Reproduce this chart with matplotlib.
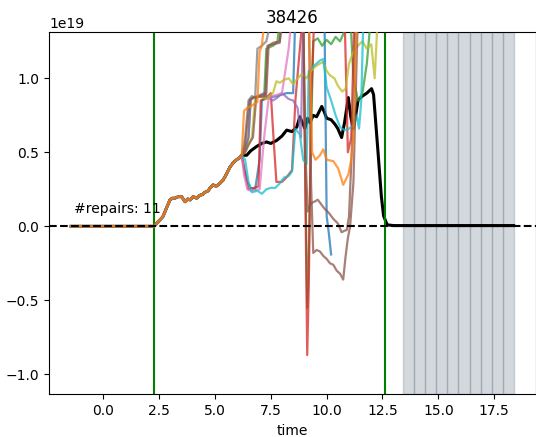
import matplotlib
matplotlib.use("Agg")
import matplotlib.pyplot as plt
import numpy as np

# shared part of every run (before the repairs split off), units of 1e19
t_shared = [-1.44, 2.27, 2.45, 2.67, 2.82, 2.99, 3.1, 3.21, 3.35, 3.51, 3.66, 3.78, 3.88,
            4.03, 4.18, 4.33, 4.45, 4.55, 4.7, 4.78, 4.92, 5.05, 5.22, 5.35, 5.45, 5.57,
            5.67, 5.82, 5.97, 6.08, 6.2]
v_shared = [0.0, 0.0, 0.03, 0.065, 0.12, 0.18, 0.19, 0.19, 0.2, 0.2, 0.166, 0.185, 0.178,
            0.2, 0.19, 0.21, 0.215, 0.23, 0.24, 0.26, 0.28, 0.27, 0.29, 0.31, 0.335, 0.37,
            0.40, 0.43, 0.45, 0.46, 0.48]

# black reference run after the split
t_black = [6.42, 6.6, 6.87, 7.1, 7.31, 7.5, 7.76, 8.0, 8.21, 8.45, 8.66, 8.8, 9.03, 9.15,
           9.25, 9.4, 9.55, 9.78, 9.9, 10.0, 10.2, 10.37, 10.5, 10.67, 10.8, 10.97, 11.08,
           11.19, 11.3, 11.41, 11.6, 11.8, 12.01, 12.1, 12.3, 12.45, 12.55, 12.71, 13.0, 18.37]
v_black = [0.48, 0.51, 0.54, 0.56, 0.57, 0.56, 0.58, 0.61, 0.65, 0.64, 0.67, 0.74, 0.66, 0.73,
           0.70, 0.75, 0.74, 0.81, 0.77, 0.73, 0.72, 0.69, 0.66, 0.60, 0.70, 0.87, 0.74,
           0.66, 0.75, 0.855, 0.88, 0.90, 0.93, 0.89, 0.5, 0.2, 0.07, 0.01, 0.005, 0.005]

# repair runs after the split
t_blue = [6.3, 6.45, 6.6, 6.8, 7.0, 7.1, 7.4, 7.8, 8.2, 8.5, 8.6, 9.9, 10.0, 10.1, 10.2]
v_blue = [0.4, 0.3, 0.26, 0.25, 0.45, 0.85, 0.87, 0.88, 0.9, 0.9, 1.45, 1.45, 0.07, -0.05, -0.19]

t_green = [6.35, 6.5, 6.6, 7.0, 7.2, 7.3, 7.6, 7.8, 7.95, 8.95, 9.05, 9.13, 9.2, 9.3, 9.4,
           9.6, 9.8, 10.0, 10.2, 10.4, 10.6, 10.75, 10.9, 11.05, 11.2, 11.4, 11.6, 11.8, 12.0]
v_green = [0.52, 0.6, 0.86, 0.88, 0.87, 1.2, 1.22, 1.25, 1.45, 1.45, 0.3, -0.55, -0.2, 0.6,
           1.25, 1.27, 1.22, 1.26, 1.23, 1.28, 1.25, 1.3, 1.45, 1.45, 1.0, 0.85, 0.9, 1.1, 1.45]

t_red = [6.35, 6.5, 6.75, 6.95, 7.05, 7.3, 7.5, 7.62, 7.75, 8.0, 8.2, 8.45, 8.6, 8.8, 8.95,
         9.05, 9.13, 9.2, 9.3, 9.45, 10.8, 10.95, 11.1, 11.25]
v_red = [0.35, 0.25, 0.26, 0.27, 0.85, 0.87, 0.9, 0.6, 0.3, 0.3, 0.33, 0.38, 0.85, 1.2, 1.45,
         0.2, -0.87, -0.4, 0.8, 1.45, 1.45, 0.5, 0.6, 1.45]

t_purple = [6.35, 6.5, 6.6, 6.9, 7.2, 7.4, 7.6, 7.8, 8.0, 8.3, 8.5, 8.7, 8.85, 8.95]
v_purple = [0.52, 0.6, 0.86, 0.88, 0.9, 0.87, 0.85, 0.87, 0.9, 0.86, 0.85, 0.8, 0.6, 1.45]

t_brown_a = [6.35, 6.5, 6.7, 6.85, 7.3, 7.4, 7.6, 7.9, 8.05, 8.95, 9.05, 9.15, 9.25, 9.35,
             9.5, 9.6, 9.75, 9.9, 10.1, 10.3, 10.5, 10.67, 10.8, 10.9, 11.0, 11.15, 11.3]
v_brown_a = [0.5, 0.55, 0.6, 0.87, 0.9, 1.22, 1.24, 1.25, 1.45, 1.45, 0.5, 0.1, 0.14, 0.16,
             0.17, 0.18, 0.15, 0.12, 0.09, 0.05, 0.02, -0.04, -0.03, -0.025, 0.065, 0.6, 1.45]

t_brown_b = [6.35, 6.55, 6.7, 7.25, 7.35, 7.9, 8.0, 9.2, 9.3, 9.4, 9.55, 9.7, 9.85, 10.0,
             10.15, 10.3, 10.45, 10.6, 10.74, 10.85, 10.95, 11.05, 11.2, 11.4]
v_brown_b = [0.55, 0.85, 0.87, 0.88, 1.22, 1.24, 1.45, 1.45, 0.3, -0.18, -0.16, -0.17, -0.2,
             -0.22, -0.25, -0.26, -0.3, -0.32, -0.36, -0.2, -0.08, 0.0, 0.3, 1.45]

t_pink = [6.3, 6.45, 6.6, 7.0, 7.2, 7.4, 7.6, 8.0, 8.3, 8.45]
v_pink = [0.35, 0.25, 0.24, 0.25, 0.6, 0.86, 0.88, 0.9, 1.2, 1.45]

t_gray = [6.35, 6.5, 6.65, 6.8, 6.9, 7.1, 7.3, 7.45, 7.6]
v_gray = [0.6, 0.85, 0.88, 0.87, 1.2, 1.22, 1.25, 1.35, 1.45]

t_olive = [6.35, 6.5, 6.65, 6.8, 7.0, 7.3, 7.6, 7.75, 7.9, 8.1, 8.3, 8.5, 8.7, 8.9, 9.1,
           9.3, 9.5, 9.7, 9.85, 10.0, 10.15, 10.35, 10.5, 10.7, 10.85, 11.0, 11.2, 11.4,
           11.6, 11.8, 12.0, 12.15, 12.3]
v_olive = [0.5, 0.55, 0.6, 0.87, 0.88, 0.86, 0.9, 0.98, 0.97, 0.99, 1.0, 0.96, 1.0, 1.03,
           1.0, 1.05, 1.08, 1.1, 1.11, 1.05, 1.02, 1.0, 0.95, 0.91, 0.93, 1.1, 1.18, 1.22,
           1.25, 1.2, 1.23, 1.0, 1.45]

t_cyan = [6.35, 6.5, 6.65, 6.9, 7.1, 7.3, 7.5, 7.7, 7.9, 8.1, 8.3, 8.45, 8.6, 8.8, 8.95,
          9.1, 9.2, 9.4, 9.55, 9.7, 9.85, 10.0, 10.2, 10.4, 10.6, 10.8, 11.0, 11.2, 11.35,
          11.45, 11.55, 11.65]
v_cyan = [0.45, 0.3, 0.23, 0.24, 0.22, 0.25, 0.26, 0.26, 0.29, 0.33, 0.34, 0.37, 0.66, 0.62,
          0.45, 0.42, 1.05, 1.08, 1.1, 1.12, 1.13, 0.94, 0.85, 0.75, 0.67, 0.65, 0.66, 0.68,
          0.75, 0.66, 0.85, 1.45]

t_orange = [6.3, 6.45, 6.7, 6.9, 7.0, 7.1, 7.25, 9.2, 9.35, 9.5, 9.7, 9.85, 10.0, 10.3,
            10.52, 10.74, 10.97, 11.1, 11.19, 11.35]
v_orange = [0.78, 0.80, 0.82, 0.84, 1.18, 1.22, 1.45, 1.45, 0.5, 0.45, 0.48, 0.52, 0.45,
            0.44, 0.39, 0.28, 0.35, 0.45, 0.60, 1.45]

# drawing order matters: the last runs dominate the shared stretch
runs = [
    (t_blue, v_blue, "tab:blue"),
    (t_green, v_green, "tab:green"),
    (t_red, v_red, "tab:red"),
    (t_purple, v_purple, "tab:purple"),
    (t_pink, v_pink, "tab:pink"),
    (t_gray, v_gray, "tab:gray"),
    (t_olive, v_olive, "tab:olive"),
    (t_cyan, v_cyan, "tab:cyan"),
    (t_brown_a, v_brown_a, "tab:brown"),
    (t_brown_b, v_brown_b, "tab:brown"),
    (t_orange, v_orange, "tab:orange"),
]

t_start, t_end = 2.27, 12.62
shade_starts = [13.4, 13.9, 14.4, 14.9, 15.4, 15.9, 16.4, 16.9, 17.4, 17.9]
shade_width = 0.5
n_repairs = 11
scale = 1e19

fig = plt.figure(figsize=(5.36, 4.37), dpi=100)
ax = fig.add_axes([0.0914, 0.0977, 0.9081, 0.8298])

ax.plot(np.array(t_shared + t_black), np.array(v_shared + v_black) * scale,
        color="black", lw=2.2, zorder=2)
for t_run, v_run, col in runs:
    ax.plot(np.array(t_shared + t_run), np.array(v_shared + v_run) * scale,
            color=col, lw=1.6, alpha=0.75, zorder=3)

for s in shade_starts:
    ax.axvspan(s, s + shade_width, color="slategray", alpha=0.3, zorder=1)

ax.axvline(t_start, color="green", lw=1.5)
ax.axvline(t_end, color="green", lw=1.5)
ax.axhline(0, color="black", ls="--", lw=1.5, zorder=4)

ax.text(-1.31, 0.09 * scale, f"#repairs: {n_repairs}", fontsize=10)

ax.set_xlim(-2.43, 19.36)
ax.set_ylim(-1.135 * scale, 1.315 * scale)
ax.set_xlabel("time")
ax.set_title("38426")

fig.savefig("out.png")
